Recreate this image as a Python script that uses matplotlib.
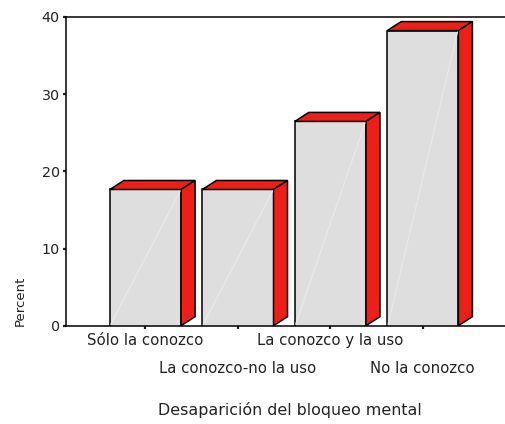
"""SPSS-style 3D bar chart: Desaparición del bloqueo mental."""

import matplotlib

matplotlib.use("Agg")
import matplotlib.pyplot as plt
from matplotlib.patches import Polygon
from matplotlib.ticker import FixedLocator

plt.rcParams["font.family"] = ["DejaVu Sans"]

CATEGORIES = [
    "Sólo la conozco",
    "La conozco-no la uso",
    "La conozco y la uso",
    "No la conozco",
]
PERCENT = [17.65, 17.65, 26.47, 38.24]
Y_TICKS = [0, 10, 20, 30, 40]

FRONT_COLOR = "#DEDEDE"
SIDE_COLOR = "#EE1F17"
W, H, DPI = 506, 424, 100

# axes box in pixels (left, right, bottom, top), measured from top-left
AX_L, AX_R, AX_B, AX_T = 66, 506, 325.7, 17
XLIM = (-0.86, 3.90)
YLIM = (0, 40)
BAR_W = 0.77
DEPTH_PX = (14, 9)

fig = plt.figure(figsize=(W / DPI, H / DPI), dpi=DPI)
ax = fig.add_axes([AX_L / W, 1 - AX_B / H, (AX_R - AX_L) / W, (AX_B - AX_T) / H])
ax.set_xlim(*XLIM)
ax.set_ylim(*YLIM)

# pixel depth -> data units
dx = DEPTH_PX[0] * (XLIM[1] - XLIM[0]) / (AX_R - AX_L)
dy = DEPTH_PX[1] * (YLIM[1] - YLIM[0]) / (AX_B - AX_T)

xs = list(range(len(CATEGORIES)))
bars = ax.bar(xs, PERCENT, width=BAR_W, color=FRONT_COLOR, edgecolor="black",
              linewidth=1.1, zorder=3)

for bar in bars:
    x0 = bar.get_x()
    x1 = x0 + bar.get_width()
    h = bar.get_height()
    top = Polygon([(x0, h), (x1, h), (x1 + dx, h + dy), (x0 + dx, h + dy)],
                  closed=True, facecolor=SIDE_COLOR, edgecolor="black",
                  linewidth=1.1, zorder=3)
    side = Polygon([(x1, 0), (x1 + dx, dy), (x1 + dx, h + dy), (x1, h)],
                   closed=True, facecolor=SIDE_COLOR, edgecolor="black",
                   linewidth=1.1, zorder=3)
    ax.add_patch(top)
    ax.add_patch(side)
    # faint highlight streak across the front face
    ax.plot([x0 + 0.01, x1 - 0.01], [0.2, h - 0.2], color="#EAEAEA",
            linewidth=0.8, zorder=4)

# spines
for side_name in ("left", "bottom", "top"):
    ax.spines[side_name].set_linewidth(1.1)
    ax.spines[side_name].set_color("black")
ax.spines["right"].set_visible(False)

ax.set_yticks(Y_TICKS)
ax.tick_params(axis="y", direction="out", length=2.5, width=1.6, pad=2,
               labelsize=10.3, colors="#222222")

# staggered category labels: even ones on the major row, odd ones below
ax.xaxis.set_major_locator(FixedLocator(xs[0::2]))
ax.xaxis.set_minor_locator(FixedLocator(xs[1::2]))
ax.set_xticklabels(CATEGORIES[0::2])
ax.set_xticklabels(CATEGORIES[1::2], minor=True)
ax.tick_params(axis="x", which="major", direction="out", length=2.5, width=1.6,
               pad=3, labelsize=10.7, colors="#222222")
ax.tick_params(axis="x", which="minor", direction="out", length=2.5, width=1.6,
               pad=23, labelsize=10.7, colors="#222222")

fig.text(290 / W, 1 - 410 / H, "Desaparición del bloqueo mental",
         ha="center", va="center", fontsize=11.4, color="#222222")
fig.text(20 / W, 1 - 301 / H, "Percent", rotation=90,
         ha="center", va="center", fontsize=9.5, color="#222222")

fig.savefig("out.png", dpi=DPI)
